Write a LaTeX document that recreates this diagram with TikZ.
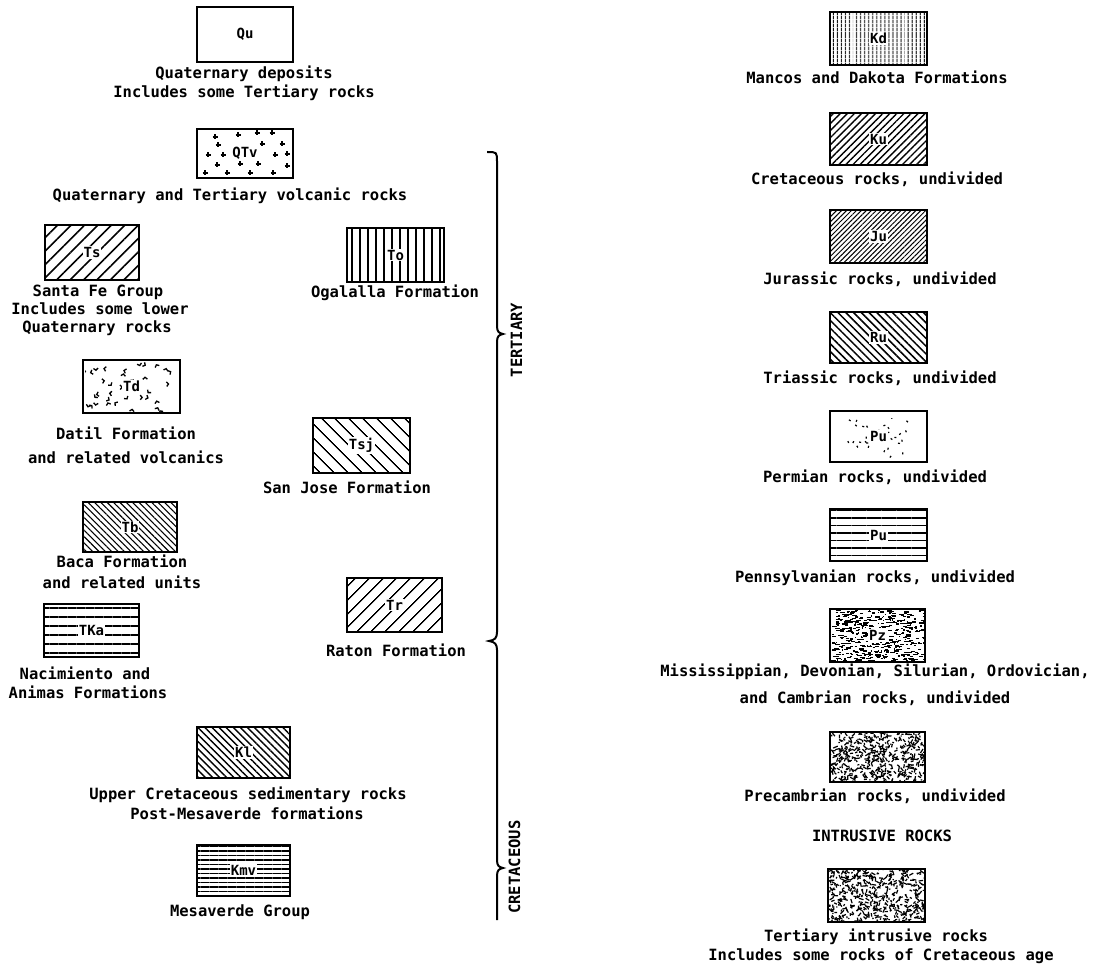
\documentclass[tikz,border=0pt]{standalone}
\usepackage{fontspec}
\usetikzlibrary{patterns.meta}
\newfontfamily\legfont{DejaVu Sans Mono}
\tikzset{
  captxt/.style={font={\legfont\bfseries\fontsize{15.5}{18}\selectfont}, inner sep=0pt, text height=11pt, text depth=3pt},
  unitbox/.style={draw, line width=1.8pt, inner sep=0pt},
  boxlab/.style={font={\legfont\bfseries\fontsize{14}{16}\selectfont}, inner sep=1pt, fill=white},
  hatchfill/.style n args={3}{pattern={Lines[angle=#1,distance=#2,line width=#3]}, pattern color=black},
  bracepath/.style={line width=2pt},
}
\newcommand\legbox[6]{\node[unitbox,#6,minimum width={(#4-#2)*1pt},minimum height={(#5-#3)*1pt}] (#1) at ({(#2+#4)/2},{(#3+#5)/2}) {};}
\newcommand\speckle[7]{%
 \begin{scope}
 \clip (#1,#2) rectangle (#3,#4);
 \pgfmathsetseed{#6}%
 \foreach \k in {1,...,#5}{%
   \pgfmathsetmacro\sx{#1+rnd*(#3-#1)}%
   \pgfmathsetmacro\sy{#2+rnd*(#4-#2)}%
   \pgfmathsetmacro\sa{rnd*360}%
   \pgfmathsetmacro\sl{1+rnd*4}%
   #7}%
 \end{scope}}
\begin{document}
\begin{tikzpicture}[x=1pt,y=-1pt]
\fill[white] (0,0) rectangle (1100,968);
\useasboundingbox (0,0) rectangle (1100,968);

% ---------- left column boxes ----------
\legbox{qu}{197}{7}{293}{62}{}
\legbox{qtv}{197}{129}{293}{178}{}
\foreach \cx/\cy in {215/137,238/135,257/133,272/133,218/145,262/144,282/144,208/155,223/155,275/155,287/154,217/165,240/164,258/164,287/166,205/173,227/173,250/173,273/173}
  {\draw[line width=1.4pt] (\cx-2.5,\cy) -- (\cx+2.5,\cy) (\cx,\cy-2.5) -- (\cx,\cy+2.5);}
\legbox{ts}{45}{225}{139}{280}{hatchfill={45}{9.5pt}{1.6pt}}
\legbox{to}{347}{228}{444}{282}{hatchfill={90}{8pt}{1.6pt}}
\legbox{td}{83}{360}{180}{413}{}
\speckle{85}{362}{178}{411}{34}{7}{\draw[line width=1.3pt] (\sx,\sy) ++(\sa:3) -- (\sx,\sy) -- ++({\sa+100}:3);}
\legbox{tsj}{313}{418}{410}{473}{hatchfill={-45}{10.5pt}{1.6pt}}
\legbox{tb}{83}{502}{177}{552}{hatchfill={-45}{4.5pt}{1.1pt}}
\legbox{tka}{44}{604}{139}{657}{hatchfill={0}{9pt}{1.6pt}}
\legbox{tr}{347}{578}{442}{632}{hatchfill={45}{10.5pt}{1.6pt}}
\legbox{kl}{197}{727}{290}{778}{hatchfill={-45}{5pt}{1.4pt}}
\legbox{kmv}{197}{845}{290}{896}{hatchfill={0}{4.5pt}{1.4pt}}

% ---------- right column boxes ----------
\legbox{kmd}{830}{12}{927}{65}{hatchfill={90}{4pt}{1.5pt}}
\legbox{ku}{830}{113}{927}{165}{hatchfill={45}{5pt}{1.4pt}}
\legbox{ju}{830}{210}{927}{263}{hatchfill={45}{3.5pt}{1pt}}
\legbox{tru}{830}{312}{927}{363}{hatchfill={-45}{5.5pt}{1.5pt}}
\legbox{pu}{830}{411}{927}{462}{}
\speckle{845}{418}{915}{458}{30}{11}{\draw[line width=1.2pt] (\sx,\sy) -- ++(\sa:2);}
\legbox{ipu}{830}{509}{927}{561}{hatchfill={0}{7.5pt}{1.5pt}}
\legbox{pz}{830}{609}{925}{662}{}
\speckle{831}{610}{924}{661}{480}{21}{\draw[line width=1.2pt] (\sx,\sy) -- ++(\sl,0);}
\legbox{pc}{830}{732}{925}{782}{}
\speckle{831}{733}{924}{781}{470}{31}{\draw[line width=1.2pt] (\sx,\sy) -- ++(\sa:\sl);}
\legbox{ti}{828}{869}{925}{922}{}
\speckle{829}{870}{924}{921}{480}{41}{\draw[line width=1.2pt] (\sx,\sy) -- ++(\sa:\sl);}

% ---------- labels in boxes ----------
\node[boxlab] (qu-l) at (qu) {Qu};
\node[boxlab] (qtv-l) at (qtv) {QTv};
\node[boxlab] (ts-l) at (ts) {Ts};
\node[boxlab] (to-l) at (to) {To};
\node[boxlab] (td-l) at (td) {Td};
\node[boxlab] (tsj-l) at (tsj) {Tsj};
\node[boxlab] (tb-l) at (tb) {Tb};
\node[boxlab] (tka-l) at (tka) {TKa};
\node[boxlab] (tr-l) at (tr) {Tr};
\node[boxlab] (kl-l) at (kl) {Kl};
\node[boxlab] (kmv-l) at (kmv) {Kmv};
\node[boxlab] (kmd-l) at (kmd) {Kd};
\node[boxlab] (ku-l) at (ku) {Ku};
\node[boxlab] (ju-l) at (ju) {Ju};
\node[boxlab] (tru-l) at (tru) {Ru};
\node[boxlab] (pu-l) at (pu) {Pu};
\node[boxlab] (ipu-l) at (ipu) {Pu};
\node[boxlab] (pz-l) at (pz) {Pz};

% ---------- captions ----------
\node[captxt] (qu-c1) at (244,75) {Quaternary deposits};
\node[captxt] (qu-c2) at (244,94) {Includes some Tertiary rocks};
\node[captxt] (qtv-c) at (230,197) {Quaternary and Tertiary volcanic rocks};
\node[captxt] (ts-c1) at (98,293) {Santa Fe Group};
\node[captxt] (ts-c2) at (100,310) {Includes some lower};
\node[captxt] (ts-c3) at (97,328) {Quaternary rocks};
\node[captxt] (to-c) at (395,294) {Ogalalla Formation};
\node[captxt] (td-c1) at (126,435) {Datil Formation};
\node[captxt] (td-c2) at (126,459) {and related volcanics};
\node[captxt] (tsj-c) at (347,489) {San Jose Formation};
\node[captxt] (tb-c1) at (122,563) {Baca Formation};
\node[captxt] (tb-c2) at (122,584) {and related units};
\node[captxt] (tka-c1) at (85,675) {Nacimiento and};
\node[captxt] (tka-c2) at (88,694) {Animas Formations};
\node[captxt] (tr-c) at (396,652) {Raton Formation};
\node[captxt] (kl-c1) at (248,795) {Upper Cretaceous sedimentary rocks};
\node[captxt] (kl-c2) at (247,815) {Post-Mesaverde formations};
\node[captxt] (kmv-c) at (240,912) {Mesaverde Group};

\node[captxt] (kmd-c) at (877,80) {Mancos and Dakota Formations};
\node[captxt] (ku-c) at (877,181) {Cretaceous rocks, undivided};
\node[captxt] (ju-c) at (880,280) {Jurassic rocks, undivided};
\node[captxt] (tru-c) at (880,379) {Triassic rocks, undivided};
\node[captxt] (pu-c) at (875,478) {Permian rocks, undivided};
\node[captxt] (ipu-c) at (875,578) {Pennsylvanian rocks, undivided};
\node[captxt] (pz-c1) at (875,672) {Mississippian, Devonian, Silurian, Ordovician,};
\node[captxt] (pz-c2) at (875,699) {and Cambrian rocks, undivided};
\node[captxt] (pc-c) at (875,797) {Precambrian rocks, undivided};
\node[captxt] (intr) at (882,837) {INTRUSIVE ROCKS};
\node[captxt] (ti-c1) at (876,937) {Tertiary intrusive rocks};
\node[captxt] (ti-c2) at (881,956) {Includes some rocks of Cretaceous age};

% ---------- braces ----------
\draw[bracepath] (487,152) .. controls (497,152) .. (497,162) -- (497,326)
  .. controls (497,332) and (499,333) .. (503,334)
  .. controls (499,335) and (497,336) .. (497,342) -- (497,632)
  .. controls (497,638) and (495,640) .. (489,641)
  .. controls (495,642) and (497,644) .. (497,650) -- (497,860)
  .. controls (497,866) and (499,867) .. (503,868)
  .. controls (499,869) and (497,870) .. (497,876) -- (497,920);
\node[captxt, rotate=90] (tert) at (518,340) {TERTIARY};
\node[captxt, rotate=90] (cret) at (516,867) {CRETACEOUS};
\end{tikzpicture}
\end{document}
